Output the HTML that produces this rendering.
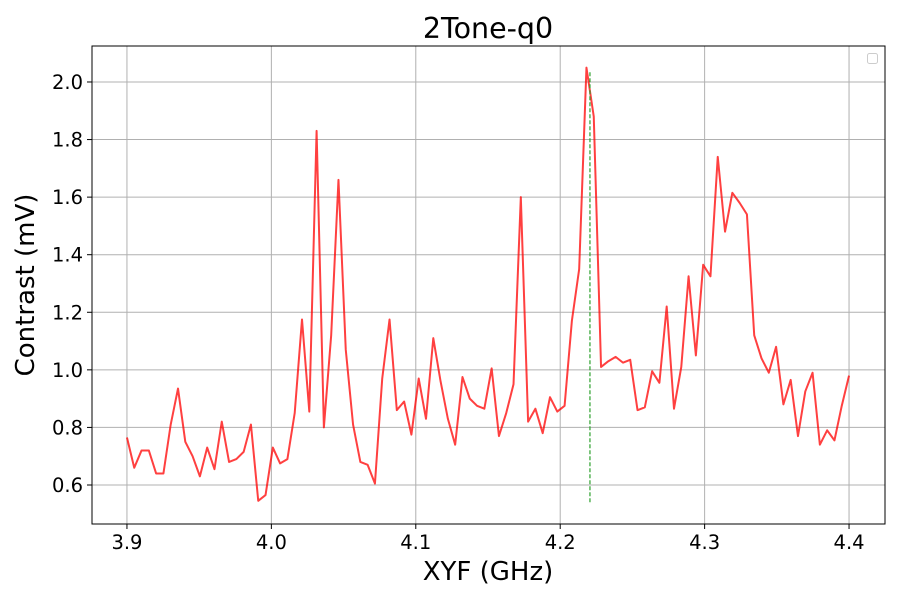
<!DOCTYPE html>
<html><head><meta charset="utf-8"><style>
body{margin:0;background:#fff}
svg text{font-family:"DejaVu Sans","Liberation Sans",sans-serif;fill:#000}
</style></head><body>
<svg id="chart" width="900" height="600" xmlns="http://www.w3.org/2000/svg"></svg>
<script>
const contrastValues=[0.765,0.66,0.72,0.72,0.64,0.64,0.81,0.935,0.75,0.70,0.63,0.73,0.655,0.82,0.68,0.69,0.715,0.81,0.545,0.565,
0.73,0.675,0.69,0.85,1.175,0.855,1.83,0.80,1.12,1.66,1.07,0.81,0.68,0.67,0.605,0.97,1.175,0.86,0.89,0.775,
0.97,0.83,1.11,0.96,0.83,0.74,0.975,0.90,0.875,0.865,1.005,0.77,0.85,0.95,1.60,0.82,0.865,0.78,0.905,0.855,
0.875,1.17,1.35,2.05,1.88,1.01,1.03,1.045,1.025,1.035,0.86,0.87,0.995,0.955,1.22,0.865,1.01,1.325,1.05,1.365,
1.325,1.74,1.48,1.615,1.58,1.54,1.12,1.04,0.99,1.08,0.88,0.965,0.77,0.925,0.99,0.74,0.79,0.755,0.875,0.98];
const xStart=3.9, xEnd=4.4;
const xTicks=[3.9,4.0,4.1,4.2,4.3,4.4];
const xTickLabels=["3.9","4.0","4.1","4.2","4.3","4.4"];
const yTicks=[0.6,0.8,1.0,1.2,1.4,1.6,1.8,2.0];
const yTickLabels=["0.6","0.8","1.0","1.2","1.4","1.6","1.8","2.0"];
const markerX=[4.2206];
const markerY=[0.54,2.04];

const L=92,R=885,T=46,B=524;
const xMin=3.8758,xMax=4.4249,yMin=0.4645,yMax=2.125;
const sx=v=>L+(v-xMin)/(xMax-xMin)*(R-L);
const sy=v=>B-(v-yMin)/(yMax-yMin)*(B-T);
const svg=document.getElementById('chart');
const NS='http://www.w3.org/2000/svg';
function mk(tag,attrs,parent){const e=document.createElementNS(NS,tag);for(const k in attrs)e.setAttribute(k,attrs[k]);(parent||svg).appendChild(e);return e;}

const grid=mk('g',{});


xTicks.forEach((t,i)=>{
  const x=sx(t);
  mk('line',{x1:x,x2:x,y1:T,y2:B,stroke:'#b0b0b0','stroke-width':1},grid);
  mk('line',{x1:x,x2:x,y1:B,y2:B+5,stroke:'#000','stroke-width':1},grid);
  const tx=mk('text',{x:x,y:B+25,'text-anchor':'middle','font-size':19.5});
  tx.textContent=xTickLabels[i];
  
  
});
yTicks.forEach((t,i)=>{
  const y=sy(t);
  mk('line',{x1:L,x2:R,y1:y,y2:y,stroke:'#b0b0b0','stroke-width':1},grid);
  mk('line',{x1:L-5,x2:L,y1:y,y2:y,stroke:'#000','stroke-width':1},grid);
  const tx=mk('text',{x:L-9,y:y+7,'text-anchor':'end','font-size':19.5});
  tx.textContent=yTickLabels[i];
  
  
});

const n=contrastValues.length;
const pts=contrastValues.map((v,i)=>sx(xStart+(xEnd-xStart)*i/(n-1)).toFixed(2)+','+sy(v).toFixed(2)).join(' ');
const line=mk('polyline',{points:pts,fill:'none',stroke:'#ff0000','stroke-opacity':0.75,'stroke-width':2,'stroke-linejoin':'round'});



const mark=mk('line',{x1:sx(markerX[0]),x2:sx(markerX[0]),y1:sy(markerY[0]),y2:sy(markerY[1]),stroke:'#2ca02c','stroke-width':1.2,'stroke-dasharray':'4,2'});



const frame=mk('rect',{x:L,y:T,width:R-L,height:B-T,fill:'none',stroke:'#000','stroke-width':1});



const leg=mk('rect',{x:867.5,y:53.5,width:10,height:10,rx:2,fill:'#fff',stroke:'#ccc','stroke-width':1});



const title=mk('text',{x:488,y:38,'text-anchor':'middle','font-size':28.5});
title.textContent='2Tone-q0';


const xl=mk('text',{x:488,y:580,'text-anchor':'middle','font-size':26});
xl.textContent='XYF (GHz)';


const yl=mk('text',{x:0,y:0,'text-anchor':'middle','font-size':26,transform:'translate(34,285) rotate(-90)'});
yl.textContent='Contrast (mV)';


</script>
</body></html>
